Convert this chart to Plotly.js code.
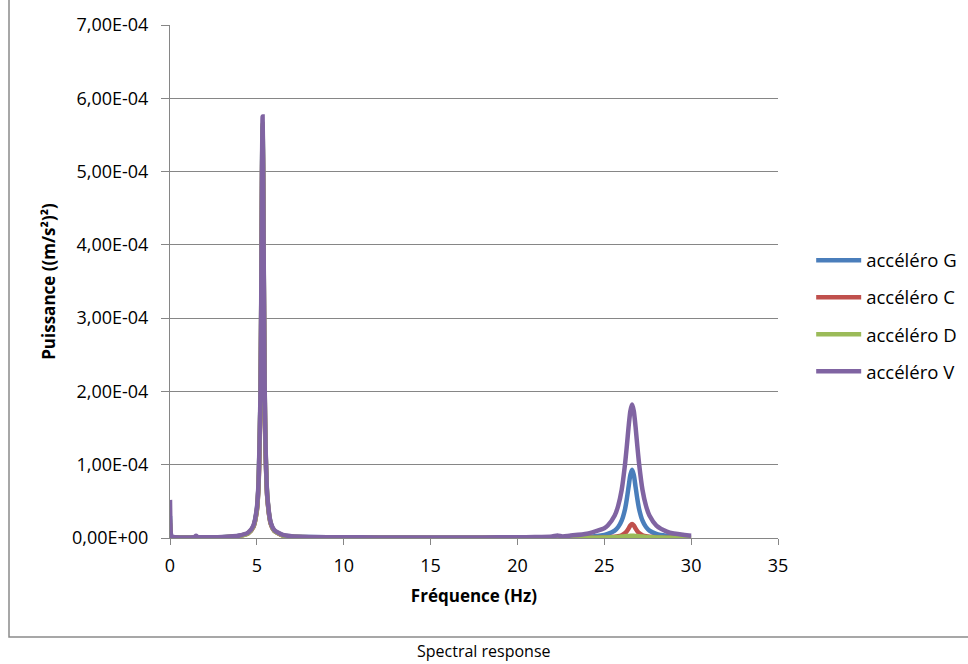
<!DOCTYPE html>
<html>
<head>
<meta charset="utf-8">
<script src="https://cdn.plot.ly/plotly-3.0.1.min.js"></script>
<style>html,body{margin:0;padding:0;background:#fff;}#chart{width:968px;height:664px;}</style>
</head>
<body>
<div id="chart"></div>
<script>
// Frequencies (Hz)
const freq = [0,0.05,0.1,0.3,0.6,1.0,1.4,1.5,1.6,2.0,3.0,
  4.0,4.5,4.8,5.0,5.1,5.2,5.25,5.3,5.33,5.36,5.4,5.45,5.5,5.6,5.8,6.0,6.5,7.0,
  8,10,12,15,18,20,21,22,22.3,22.6,23,24,25,
  25.2,25.6,25.8,26.0,26.2,26.3,26.4,26.5,26.6,26.7,26.8,26.9,27.0,27.2,27.4,27.6,28.0,28.6,29,30];

// Power values in units of 1e-4 (m/s²)²
const accG = [0.3,0.04,0.015,0.008,0.006,0.006,0.008,0.02,0.008,0.007,0.01,
  0.03,0.065,0.155,0.39,0.75,1.8,3.1,5.05,5.6,5.05,3.5,2.0,1.22,0.56,0.2,0.1,0.035,0.02,
  0.012,0.008,0.006,0.005,0.005,0.006,0.007,0.008,0.012,0.009,0.011,0.0166,0.042,
  0.055,0.10,0.15,0.236,0.40,0.536,0.70,0.86,0.93,0.86,0.70,0.536,0.40,0.236,0.15,0.10,0.055,0.028,0.019,0.0098];

const accC = [0.2,0.03,0.01,0.006,0.005,0.005,0.006,0.015,0.006,0.005,0.008,
  0.028,0.062,0.15,0.37,0.73,1.77,3.05,4.95,5.5,4.95,3.45,1.98,1.2,0.55,0.19,0.095,0.032,0.018,
  0.01,0.006,0.004,0.003,0.003,0.003,0.003,0.003,0.005,0.003,0.003,0.003,0.0065,
  0.008,0.016,0.023,0.038,0.068,0.095,0.13,0.171,0.19,0.171,0.13,0.095,0.068,0.038,0.023,0.016,0.008,0.004,0.003,0.0015];

const accD = [0.25,0.03,0.012,0.007,0.006,0.006,0.007,0.018,0.007,0.006,0.009,
  0.029,0.064,0.155,0.38,0.74,1.8,3.1,5.05,5.65,5.1,3.55,2.04,1.25,0.57,0.2,0.1,0.034,0.02,
  0.011,0.007,0.005,0.004,0.004,0.004,0.004,0.004,0.006,0.004,0.004,0.004,0.006,
  0.0074,0.0117,0.015,0.0192,0.024,0.0263,0.0282,0.0296,0.03,0.0296,0.0282,0.0263,0.024,0.0192,0.015,0.0117,0.0074,0.0041,0.003,0.0016];

const accV = [0.52,0.06,0.02,0.01,0.008,0.008,0.012,0.03,0.012,0.01,0.012,
  0.034,0.075,0.17,0.41,0.78,1.87,3.2,5.18,5.75,5.18,3.6,2.07,1.27,0.58,0.21,0.11,0.042,0.025,
  0.015,0.01,0.008,0.007,0.008,0.01,0.012,0.02,0.035,0.022,0.032,0.058,0.134,
  0.17,0.306,0.44,0.655,1.02,1.26,1.52,1.73,1.82,1.73,1.52,1.26,1.02,0.655,0.44,0.306,0.17,0.088,0.062,0.031];

const seriesNames = ["accéléro G","accéléro C","accéléro D","accéléro V"];
const seriesColors = ["#4A7EBB","#C0504D","#9BBB59","#8064A2"];
const yTickVals = [0,1e-4,2e-4,3e-4,4e-4,5e-4,6e-4,7e-4];
const yTickText = ["0,00E+00","1,00E-04","2,00E-04","3,00E-04","4,00E-04","5,00E-04","6,00E-04","7,00E-04"];
const xTickVals = [0,5,10,15,20,25,30,35];

const UNIT = 1e-4;
const all = [accG, accC, accD, accV];
const traces = all.map((s, i) => ({
  x: freq,
  y: s.map(v => v * UNIT),
  type: 'scatter',
  mode: 'lines',
  name: seriesNames[i],
  legendgroup: 'g' + i,
  line: {color: seriesColors[i], width: 4.5, shape: 'spline', smoothing: 0.6}
}));

const FONT = "'Open Sans', 'Noto Sans', sans-serif";
const grid = '#868686';

const layout = {
  width: 968, height: 664,
  margin: {l: 170, r: 190, t: 25, b: 126},
  paper_bgcolor: '#fff', plot_bgcolor: '#fff',
  font: {family: FONT, size: 17, color: '#000'},
  showlegend: true,
  legend: {
    xref: 'container', yref: 'container',
    x: 0.838, y: 0.636, xanchor: 'left', yanchor: 'top',
    font: {family: FONT, size: 18.5, color: '#000'},
    tracegroupgap: 10, itemwidth: 45,
    bgcolor: 'rgba(0,0,0,0)'
  },
  xaxis: {
    range: [0, 35], tickvals: xTickVals,
    showgrid: false, zeroline: false,
    showline: true, linecolor: grid, linewidth: 1,
    ticks: 'outside', ticklen: 6, tickcolor: grid,
    ticklabelstandoff: 5,
    tickfont: {family: FONT, size: 18},
    title: {text: '<b>Fréquence (Hz)</b>', font: {family: FONT, size: 17}, standoff: 14}
  },
  yaxis: {
    range: [0, 7e-4], tickvals: yTickVals, ticktext: yTickText,
    showgrid: true, gridcolor: grid, gridwidth: 1,
    zeroline: false,
    showline: true, linecolor: grid, linewidth: 1,
    ticks: 'outside', ticklen: 8, tickcolor: grid,
    ticklabelstandoff: 9,
    tickfont: {family: FONT, size: 18},
    title: {text: '<b>Puissance ((m/s²)²)</b>', font: {family: FONT, size: 17}, standoff: 12}
  },
  shapes: [{
    type: 'path', xref: 'paper', yref: 'paper',
    path: 'M -0.2648 1.06 L -0.2648 -0.193 L 1.35 -0.193',
    line: {color: '#8a8a8a', width: 1.5}
  }],
  annotations: [{
    text: 'Spectral response', xref: 'paper', yref: 'paper',
    x: 0.516, y: -0.22, xanchor: 'center', yanchor: 'middle', showarrow: false,
    font: {family: FONT, size: 16, color: '#000'}
  }]
};

Plotly.newPlot('chart', traces, layout, {displayModeBar: false, staticPlot: true});
</script>
</body>
</html>
